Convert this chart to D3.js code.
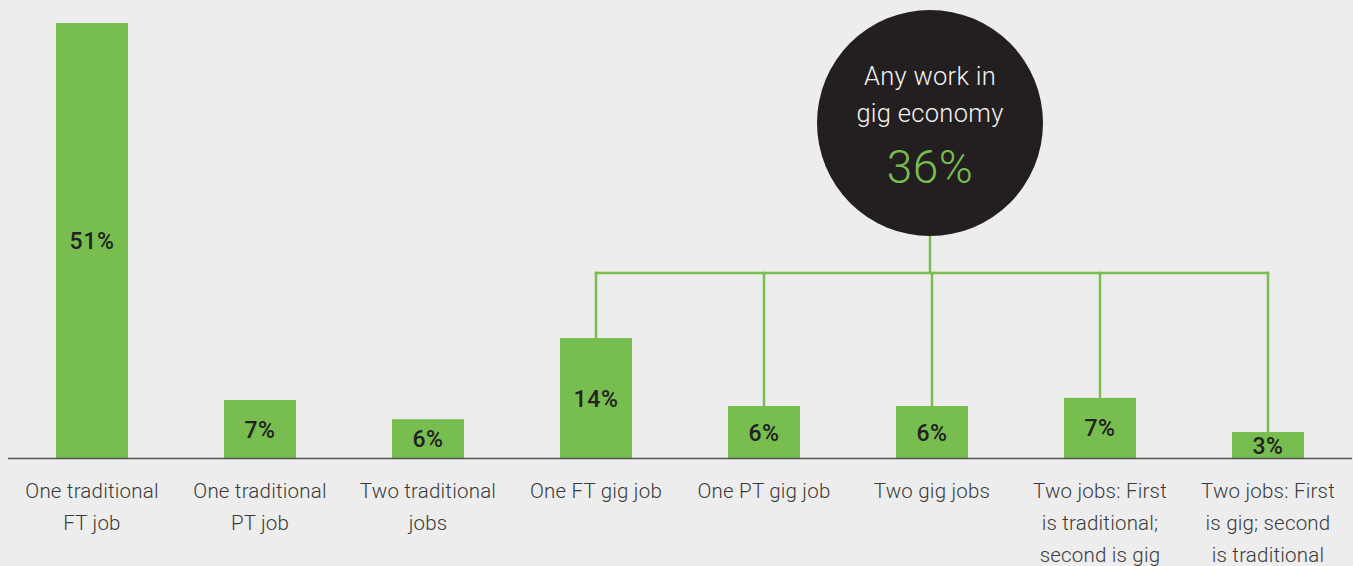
<!DOCTYPE html>
<html>
<head>
<meta charset="utf-8">
<script src="https://cdn.jsdelivr.net/npm/d3@7"></script>
<style>
  html, body { margin: 0; padding: 0; background: #ededed; }
  svg { display: block; }
</style>
</head>
<body>
<svg id="chart" width="1353" height="566"></svg>
<script>
// ---- data ----
const categories = [
  ["One traditional", "FT job"],
  ["One traditional", "PT job"],
  ["Two traditional", "jobs"],
  ["One FT gig job"],
  ["One PT gig job"],
  ["Two gig jobs"],
  ["Two jobs: First", "is traditional;", "second is gig"],
  ["Two jobs: First", "is gig; second", "is traditional"]
];
const values = [51, 6.85, 4.6, 14.1, 6.15, 6.15, 7.1, 3.1];   // bar heights as drawn
const valueLabels = ["51%", "7%", "6%", "14%", "6%", "6%", "7%", "3%"];
const gigIndices = [3, 4, 5, 6, 7];
const bubbleLines = ["Any work in", "gig economy"];
const bubbleValue = "36%";

// ---- setup ----
const W = 1353, H = 566;
const green = "#78bd4f";
const font = "Roboto, 'Helvetica Neue', Arial, sans-serif";
const svg = d3.select("#chart");
svg.append("rect").attr("width", W).attr("height", H).attr("fill", "#ededed");

const x = d3.scaleBand()
  .domain(d3.range(categories.length))
  .range([8, 1352])
  .paddingInner(0.5714)
  .paddingOuter(0.2857);

const baseline = 458.5;
const y = d3.scaleLinear().domain([0, 51]).range([baseline, 23]);

// bars
svg.append("g").selectAll("rect")
  .data(values)
  .join("rect")
  .attr("x", (d, i) => x(i))
  .attr("y", d => y(d))
  .attr("width", x.bandwidth())
  .attr("height", d => baseline - y(d))
  .attr("fill", green);

// value labels
svg.append("g").selectAll("text")
  .data(values)
  .join("text")
  .attr("x", (d, i) => x(i) + x.bandwidth() / 2)
  .attr("y", d => (y(d) + baseline) / 2)
  .attr("dy", "0.36em")
  .attr("text-anchor", "middle")
  .attr("font-family", font)
  .attr("font-weight", 500)
  .attr("font-size", 23)
  .attr("letter-spacing", 0.6)
  .attr("fill", "#222")
  .text((d, i) => valueLabels[i]);

// baseline axis
svg.append("line")
  .attr("x1", 8).attr("x2", 1352)
  .attr("y1", baseline).attr("y2", baseline)
  .attr("stroke", "#555").attr("stroke-width", 1.5);

// category labels
const catG = svg.append("g");
categories.forEach((lines, i) => {
  const t = catG.append("text")
    .attr("text-anchor", "middle")
    .attr("font-family", font)
    .attr("font-weight", 300)
    .attr("font-size", 20.5)
    .attr("letter-spacing", 0.2)
    .attr("fill", "#3a3a3a");
  lines.forEach((ln, j) => {
    t.append("tspan")
      .attr("x", x(i) + x.bandwidth() / 2)
      .attr("y", 491 + j * 32)
      .attr("dy", "0.35em")
      .text(ln);
  });
});

// connector
const cx = 930, cy = 123, r = 113;
const hubY = 273;
const centers = gigIndices.map(i => x(i) + x.bandwidth() / 2);
const conn = svg.append("g")
  .attr("stroke", green).attr("stroke-width", 2.5).attr("fill", "none");
conn.append("line")
  .attr("x1", d3.min(centers) - 1.25).attr("x2", d3.max(centers) + 1.25)
  .attr("y1", hubY).attr("y2", hubY);
conn.append("line")
  .attr("x1", cx).attr("x2", cx)
  .attr("y1", cy + r - 2).attr("y2", hubY);
gigIndices.forEach(i => {
  conn.append("line")
    .attr("x1", x(i) + x.bandwidth() / 2).attr("x2", x(i) + x.bandwidth() / 2)
    .attr("y1", hubY - 1.25).attr("y2", y(values[i]));
});

// bubble
svg.append("circle")
  .attr("cx", cx).attr("cy", cy).attr("r", r)
  .attr("fill", "#231f20");
bubbleLines.forEach((ln, j) => {
  svg.append("text")
    .attr("x", cx).attr("y", 76 + j * 37)
    .attr("dy", "0.35em")
    .attr("text-anchor", "middle")
    .attr("font-family", font)
    .attr("font-weight", 300)
    .attr("font-size", 25.5)
    .attr("letter-spacing", 0.3)
    .attr("fill", "#f2f2f2")
    .text(ln);
});
svg.append("text")
  .attr("x", cx).attr("y", 167)
  .attr("dy", "0.35em")
  .attr("text-anchor", "middle")
  .attr("font-family", font)
  .attr("font-weight", 300)
  .attr("font-size", 46)
  .attr("letter-spacing", 0.5)
  .attr("fill", green)
  .text(bubbleValue);
</script>
</body>
</html>
